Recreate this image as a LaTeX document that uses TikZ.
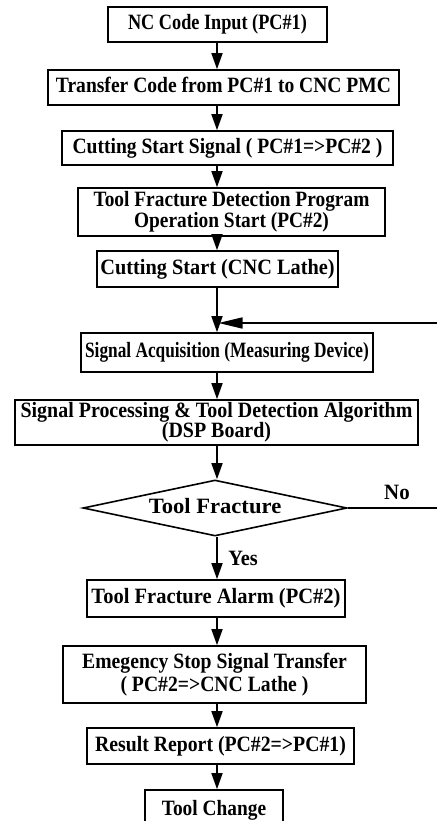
\documentclass[tikz,border=0pt]{standalone}
\usepackage{fontspec}
\usepackage{graphicx}
\setmainfont{Liberation Serif}
\usetikzlibrary{shapes.geometric,arrows.meta}
\newcommand{\bxt}[2]{\scalebox{#1}[1.15]{\begin{tabular}{@{}c@{}}#2\end{tabular}}}
\begin{document}
\begin{tikzpicture}[x=1pt,y=-1pt,
  box/.style={draw,line width=1.6pt,inner sep=0pt,align=center,font=\bfseries\fontsize{19}{14.8}\selectfont},
  dia/.style={draw,line width=1.6pt,shape=diamond,inner sep=0pt,font=\bfseries\fontsize{19}{14.8}\selectfont},
  arr/.style={line width=1.6pt,-{Triangle[length=16pt,width=11pt]}},
  loopline/.style={line width=1.6pt},
  lbl/.style={font=\bfseries\fontsize{19}{14.8}\selectfont,inner sep=0pt}]
\useasboundingbox (0,0) rectangle (436,821);
\coordinate (sp) at (217,0);
\node[box,minimum width=219pt,minimum height=35pt] (b1) at (217.5,24.5) {\bxt{0.96}{NC Code Input (PC\#1)}};
\node[box,minimum width=351pt,minimum height=35pt] (b2) at (223.5,87.5) {\bxt{1.03}{Transfer Code from PC\#1 to CNC PMC}};
\node[box,minimum width=331pt,minimum height=34pt] (b3) at (227.5,148) {\bxt{1.03}{Cutting Start Signal ( PC\#1=>PC\#2 )}};
\node[box,minimum width=307pt,minimum height=48pt] (b4) at (231.5,212) {\bxt{1.02}{Tool Fracture Detection Program\\Operation Start (PC\#2)}};
\node[box,minimum width=241pt,minimum height=36pt] (b5) at (217.5,269) {\bxt{1.07}{Cutting Start (CNC Lathe)}};
\node[box,minimum width=292pt,minimum height=39pt] (b6) at (227,352.5) {\bxt{0.91}{Signal Acquisition (Measuring Device)}};
\node[box,minimum width=403pt,minimum height=45pt] (b7) at (216.5,422.5) {\bxt{1.05}{Signal Processing \& Tool Detection Algorithm\\(DSP Board)}};
\node[dia,minimum width=264pt,minimum height=56pt,aspect=4.7] (dm) at (215,508) {\bxt{1.19}{Tool Fracture}};
\node[box,minimum width=258pt,minimum height=37pt] (b8) at (216,598.5) {\bxt{1.08}{Tool Fracture Alarm (PC\#2)}};
\node[box,minimum width=303pt,minimum height=57pt] (b9) at (214.5,674.5) {\bxt{1.035}{Emegency Stop Signal Transfer\\[2.5pt]( PC\#2=>CNC Lathe )}};
\node[box,minimum width=267pt,minimum height=36pt] (b10) at (220.5,746) {\bxt{1.04}{Result Report (PC\#2=>PC\#1)}};
\node[box,minimum width=138pt,minimum height=40pt] (b11) at (214,810) {\bxt{1.02}{Tool Change}};
\draw[arr] (b1.south -| sp) -- (b2.north -| sp);
\draw[arr] (b2.south -| sp) -- (b3.north -| sp);
\draw[arr] (b3.south -| sp) -- (b4.north -| sp);
\draw[arr] (b4.south -| sp) -- (b5.north -| sp);
\draw[arr] (b5.south -| sp) -- (b6.north -| sp);
\draw[arr] (b6.south -| sp) -- (b7.north -| sp);
\draw[arr] (b7.south -| sp) -- (dm.north -| sp);
\draw[arr] (dm.south -| sp) -- (b8.north -| sp);
\draw[arr] (b8.south -| sp) -- (b9.north -| sp);
\draw[arr] (b9.south -| sp) -- (b10.north -| sp);
\draw[arr] (b10.south -| sp) -- (b11.north -| sp);
\coordinate (dmr) at (440,508);
\coordinate (fbr) at (440,323);
\coordinate (fb) at (218.5,323);
\draw[loopline] (dm.east) -- (dmr) -- (fbr);
\draw[line width=1.6pt,-{Triangle[length=24pt,width=11pt]}] (fbr) -- (fb);
\node[lbl] (no) at (397,495) {\bxt{1.1}{No}};
\node[lbl] (yes) at (243,561) {\bxt{1.07}{Yes}};
\end{tikzpicture}
\end{document}
